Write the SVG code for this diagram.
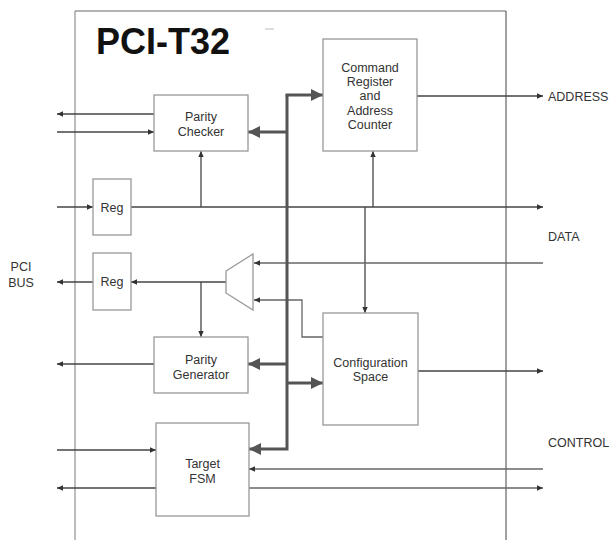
<svg xmlns="http://www.w3.org/2000/svg" width="613" height="540" viewBox="0 0 613 540">
<defs>
<marker id="a" markerUnits="userSpaceOnUse" markerWidth="8" markerHeight="8" viewBox="0 0 8 8" refX="7" refY="4" orient="auto">
<path d="M1,1.3 L7,4 L1,6.7 Z" fill="#333"/>
</marker>
<marker id="b" markerUnits="userSpaceOnUse" markerWidth="14" markerHeight="14" viewBox="0 0 14 14" refX="13" refY="7" orient="auto">
<path d="M1,1 L13,7 L1,13 Z" fill="#555"/>
</marker>
</defs>
<style>
.box{fill:#fff;stroke:#999;stroke-width:1.3}
.t{font-family:"Liberation Sans",Arial,sans-serif;font-size:12.5px;fill:#333;text-anchor:middle}
.lbl{font-family:"Liberation Sans",Arial,sans-serif;font-size:12.5px;fill:#333}
.w{fill:none;stroke:#444;stroke-width:1.3}
.wg{fill:none;stroke:#666;stroke-width:1.3}
.bus{fill:none;stroke:#555;stroke-width:3}
</style>
<rect width="613" height="540" fill="#fff"/>
<g id="frame">
<line x1="75" y1="11" x2="75" y2="540" stroke="#999" stroke-width="1.3"/>
<line x1="75" y1="11" x2="506" y2="11" stroke="#999" stroke-width="1.3"/>
<line x1="506" y1="11" x2="506" y2="540" stroke="#444" stroke-width="1"/>
<text x="96" y="54" font-family="Liberation Sans,Arial,sans-serif" font-size="36" font-weight="bold" fill="#111">PCI-T32</text>
<line x1="265" y1="29" x2="274" y2="29" stroke="#bbb" stroke-width="1"/>
</g>
<g id="connectors">
<line class="w" x1="154" y1="114" x2="57" y2="114" marker-end="url(#a)"/>
<line class="w" x1="57" y1="132" x2="154" y2="132" marker-end="url(#a)"/>
<line class="w" x1="57" y1="207" x2="93" y2="207" marker-end="url(#a)"/>
<line class="w" x1="131" y1="207" x2="543" y2="207" marker-end="url(#a)"/>
<line class="w" x1="201" y1="207" x2="201" y2="151" marker-end="url(#a)"/>
<line class="w" x1="373" y1="207" x2="373" y2="151" marker-end="url(#a)"/>
<line class="w" x1="365" y1="207" x2="365" y2="313" marker-end="url(#a)"/>
<line class="w" x1="417" y1="96" x2="543" y2="96" marker-end="url(#a)"/>
<line class="wg" x1="543" y1="263" x2="254" y2="263" marker-end="url(#a)"/>
<polyline class="wg" points="323,337 302,337 302,300 254,300" marker-end="url(#a)"/>
<line class="w" x1="226" y1="282" x2="131" y2="282" marker-end="url(#a)"/>
<line class="w" x1="201" y1="282" x2="201" y2="337" marker-end="url(#a)"/>
<line class="w" x1="93" y1="282" x2="57" y2="282" marker-end="url(#a)"/>
<line class="w" x1="154" y1="364" x2="57" y2="364" marker-end="url(#a)"/>
<line class="w" x1="418" y1="371" x2="543" y2="371" marker-end="url(#a)"/>
<line class="w" x1="57" y1="450" x2="156" y2="450" marker-end="url(#a)"/>
<line class="w" x1="156" y1="488" x2="57" y2="488" marker-end="url(#a)"/>
<line class="wg" x1="543" y1="469" x2="249" y2="469" marker-end="url(#a)"/>
<line class="wg" x1="249" y1="488" x2="543" y2="488" marker-end="url(#a)"/>
<polyline class="bus" points="287,95 287,449 249,449" marker-end="url(#b)"/>
<line class="bus" x1="285.5" y1="95" x2="323" y2="95" marker-end="url(#b)"/>
<line class="bus" x1="287" y1="132" x2="248" y2="132" marker-end="url(#b)"/>
<line class="bus" x1="287" y1="364" x2="248" y2="364" marker-end="url(#b)"/>
<line class="bus" x1="287" y1="383" x2="323" y2="383" marker-end="url(#b)"/>
</g>
<g id="parity-checker">
<rect class="box" x="154" y="95" width="94" height="56"/>
<text class="t" x="201" y="121">Parity</text>
<text class="t" x="201" y="136">Checker</text>
</g>
<g id="command-register">
<rect class="box" x="323" y="39" width="94" height="112"/>
<text class="t" x="370" y="71.5">Command</text>
<text class="t" x="370" y="86">Register</text>
<text class="t" x="370" y="100">and</text>
<text class="t" x="370" y="114.5">Address</text>
<text class="t" x="370" y="129">Counter</text>
</g>
<g id="reg-in">
<rect class="box" x="93" y="179" width="38" height="56"/>
<text class="t" x="112" y="212">Reg</text>
</g>
<g id="reg-out">
<rect class="box" x="93" y="253" width="38" height="57"/>
<text class="t" x="112" y="286">Reg</text>
</g>
<g id="mux">
<polygon points="226,271 253,254 253,310 226,293" fill="#fff" stroke="#999" stroke-width="1.3"/>
</g>
<g id="parity-generator">
<rect class="box" x="154" y="337" width="94" height="56"/>
<text class="t" x="201" y="364">Parity</text>
<text class="t" x="201" y="379">Generator</text>
</g>
<g id="configuration-space">
<rect class="box" x="323" y="313" width="95" height="112"/>
<text class="t" x="370.5" y="366.5">Configuration</text>
<text class="t" x="370.5" y="380.5">Space</text>
</g>
<g id="target-fsm">
<rect class="box" x="156" y="423" width="93" height="93"/>
<text class="t" x="202.5" y="468">Target</text>
<text class="t" x="202.5" y="483">FSM</text>
</g>
<g id="labels">
<text class="t" x="21" y="271">PCI</text>
<text class="t" x="21" y="287">BUS</text>
<text class="lbl" x="548" y="101">ADDRESS</text>
<text class="lbl" x="548" y="240.5">DATA</text>
<text class="lbl" x="548" y="447">CONTROL</text>
</g>
</svg>
